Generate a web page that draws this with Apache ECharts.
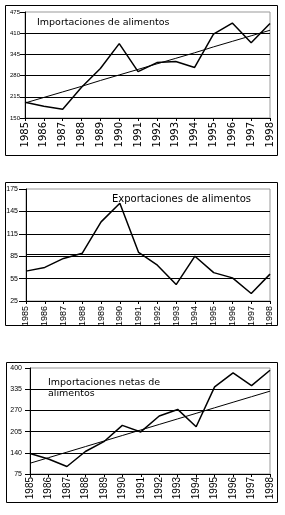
<!DOCTYPE html>
<html><head><meta charset="utf-8">
<script src="https://cdn.jsdelivr.net/npm/echarts@6/dist/echarts.min.js"></script>
<style>html,body{margin:0;padding:0;background:#fff}#c{width:285px;height:515px}</style>
</head><body><div id="c"></div>
<script>
// ---- data ----
const years = ['1985','1986','1987','1988','1989','1990','1991','1992','1993','1994','1995','1996','1997','1998'];
const importaciones      = [198,186,177,244,302,378,292,320,323,305,407,441,381,440];
const importacionesTrend = [196,213,230,247,265,282,299,316,333,350,368,385,402,419];
const exportaciones      = [65,70,82,89,131,156,90,73,47,85,63,56,35,61];
const exportacionesRef   = 88;
const netas              = [138,121,98,144,174,224,204,253,273,220,342,385,346,393];
const netasTrend         = [108,125,142,159,176,193,210,227,244,261,278,295,312,329];
const ticksImport = [150,215,280,345,410,475];
const ticksExport = [25,55,85,115,145,175];
const ticksNetas  = [75,140,205,270,335,400];
const titles = ['Importaciones de alimentos','Exportaciones de alimentos','Importaciones netas de\nalimentos'];

const chart = echarts.init(document.getElementById('c'), null, {renderer:'canvas'});
const BLACK = '#000', GRAY = '#999';

function xAx(gi, font, size, margin){
  return {type:'category', gridIndex:gi, data:years, boundaryGap:false,
    axisLine:{show:true, lineStyle:{color:BLACK, width:1}},
    axisTick:{show:true, length:3, alignWithLabel:true, lineStyle:{color:BLACK}},
    axisLabel:{rotate:90, interval:0, margin:margin, color:BLACK, fontFamily:font, fontSize:size},
    splitLine:{show:false}};
}
function yAx(gi, ticks, font, size, tickLen, margin){
  return {type:'value', gridIndex:gi, min:ticks[0], max:ticks[ticks.length-1],
    axisLine:{show:true, lineStyle:{color:BLACK, width:1}},
    axisTick:{show:true, length:tickLen, customValues:ticks, lineStyle:{color:BLACK}},
    axisLabel:{customValues:ticks, margin:margin, color:BLACK, fontFamily:font, fontSize:size},
    splitLine:{show:true, showMaxLine:false, lineStyle:{color:BLACK, width:1}}};
}
function line(gi, data, w){
  return {type:'line', xAxisIndex:gi, yAxisIndex:gi, data:data, symbol:'none', silent:true,
    lineStyle:{color:BLACK, width:w}, animation:false};
}
const gridBase = {show:true, borderColor:GRAY, borderWidth:1, containLabel:false, outerBoundsMode:'none'};

const option = {
  animation:false,
  grid:[
    Object.assign({left:25, right:15, top:12, height:106}, gridBase),
    Object.assign({left:26, right:15, top:189, height:112}, gridBase),
    Object.assign({left:30, right:15, top:368, height:106}, gridBase)
  ],
  xAxis:[
    xAx(0,'DejaVu Sans',10,4),
    xAx(1,'Liberation Sans',9,5),
    xAx(2,'Liberation Sans',10,3)
  ],
  yAxis:[
    yAx(0,ticksImport,'Liberation Sans',6,5,5),
    yAx(1,ticksExport,'Liberation Sans',7,7,8),
    yAx(2,ticksNetas,'Liberation Sans',7,5,8)
  ],
  series:[
    line(0, importacionesTrend, 1),
    line(0, importaciones, 1.5),
    Object.assign(line(1, exportaciones, 1.5), {markLine:{symbol:'none', silent:true, label:{show:false},
      lineStyle:{color:BLACK, width:1, type:'solid'}, data:[{yAxis:exportacionesRef}]}}),
    line(2, netasTrend, 1),
    line(2, netas, 1.5)
  ],
  graphic:[
    {type:'rect', shape:{x:5.5,y:5.5,width:272,height:150}, style:{fill:'none', stroke:BLACK, lineWidth:1}},
    {type:'rect', shape:{x:5.5,y:182.5,width:272,height:143}, style:{fill:'none', stroke:BLACK, lineWidth:1}},
    {type:'rect', shape:{x:6.5,y:362.5,width:271,height:140}, style:{fill:'none', stroke:BLACK, lineWidth:1}},
    {type:'text', x:37, y:22.5, style:{text:titles[0], fill:BLACK, font:'9.5px "DejaVu Sans"', verticalAlign:'middle'}},
    {type:'text', x:112, y:199.5, style:{text:titles[1], fill:BLACK, font:'10px "DejaVu Sans"', verticalAlign:'middle'}},
    {type:'text', x:48, y:377, style:{text:titles[2], fill:BLACK, font:'9.5px "DejaVu Sans"', lineHeight:11, verticalAlign:'top'}}
  ]
};
chart.setOption(option);
</script>
</body></html>
